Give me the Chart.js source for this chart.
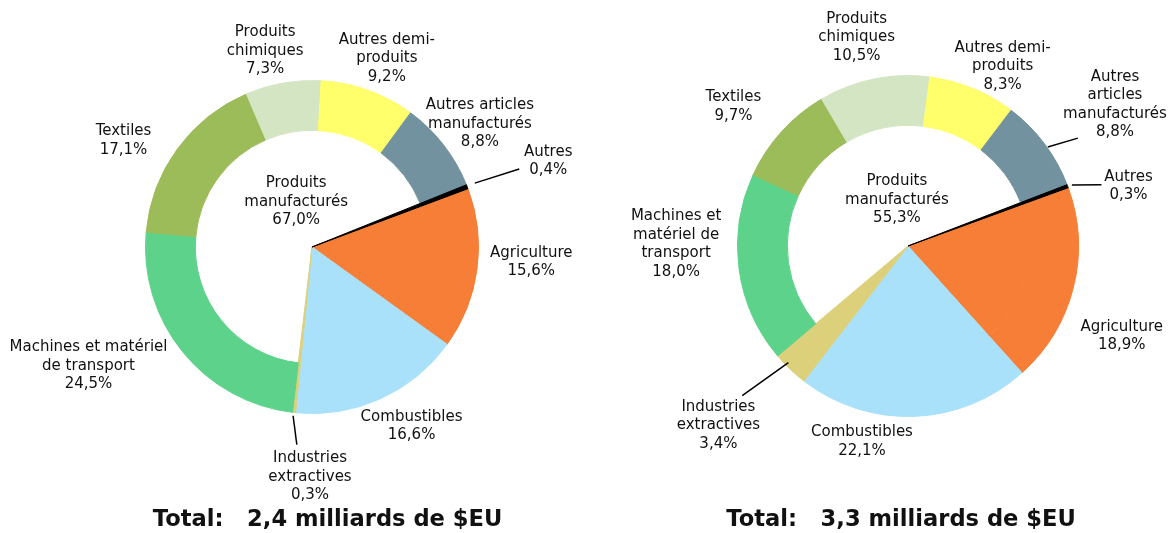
<!DOCTYPE html>
<html lang="fr">
<head>
<meta charset="utf-8">
<title>Exportations par groupe de produits</title>
<script src="https://cdn.jsdelivr.net/npm/chart.js@4.4.1/dist/chart.umd.min.js"></script>
<style>
  html, body { margin: 0; padding: 0; background: #fff; }
  #wrap { position: relative; width: 1172px; height: 533px; overflow: hidden; }
  .pie { position: absolute; top: 0; height: 533px; }
  #left { left: 0; width: 655px; }
  #right { left: 630px; width: 542px; }
</style>
</head>
<body>
<div id="wrap">
  <div class="pie" id="left"><canvas id="chartLeft"></canvas></div>
  <div class="pie" id="right"><canvas id="chartRight"></canvas></div>
</div>
<script>
/* ============================================
   DATA
   ============================================ */
const categories = ['Agriculture', 'Combustibles', 'Industries extractives',
  'Machines et matériel de transport', 'Textiles', 'Produits chimiques',
  'Autres demi-produits', 'Autres articles manufacturés', 'Autres'];
// true = part of "Produits manufacturés" (only drawn as the outer ring)
const isManufactured = [false, false, false, true, true, true, true, true, false];
const sliceColors = ['#F77E36', '#A9E1FB', '#DDD07A', '#5DD28A', '#9CBB59',
  '#D4E5C4', '#FFFF6B', '#71929E', '#000000'];

const leftValues = [15.6, 16.6, 0.3, 24.5, 17.1, 7.3, 9.2, 8.8, 0.4];
const rightValues = [18.9, 22.1, 3.4, 18.0, 9.7, 10.5, 8.3, 8.8, 0.3];
const manufacturedShare = ['67,0%', '55,3%'];
const totals = ['Total:   2,4 milliards de $EU', 'Total:   3,3 milliards de $EU'];

// line breaks of the labels differ between the two pies
const leftLabelLines = [['Agriculture'], ['Combustibles'], ['Industries', 'extractives'],
  ['Machines et matériel', 'de transport'], ['Textiles'], ['Produits', 'chimiques'],
  ['Autres demi-', 'produits'], ['Autres articles', 'manufacturés'], ['Autres']];
const rightLabelLines = [['Agriculture'], ['Combustibles'], ['Industries', 'extractives'],
  ['Machines et', 'matériel de', 'transport'], ['Textiles'], ['Produits', 'chimiques'],
  ['Autres demi-', 'produits'], ['Autres', 'articles', 'manufacturés'], ['Autres']];

/* ============================================
   LABEL LAYOUT  [angle nudge from slice middle (deg), distance / radius]
   ============================================ */
const leftLabelPos = [[-3.7, 1.32], [-4.8, 1.23], [-5.7, 1.38], [11.1, 1.52], [-6.5, 1.30],
  [-3.4, 1.21], [1.9, 1.22], [1.6, 1.25], [1.2, 1.51]];
const rightLabelPos = [[8.8, 1.36], [15.4, 1.18], [2.9, 1.53], [8.2, 1.36], [-3.5, 1.31],
  [-2.3, 1.26], [5.5, 1.19], [2.6, 1.47], [5.3, 1.34]];
const leftLeaders = [
  { index: 2, from: [0.2, 1.02], to: [-1.8, 1.19] },
  { index: 8, from: [-0.2, 1.05], to: [0.6, 1.33] }
];
const rightLeaders = [
  { index: 2, from: [2.0, 0.98], to: [4.2, 1.31] },
  { index: 7, from: [1.6, 1.005], to: [4.5, 1.18] },
  { index: 8, from: [0.1, 1.026], to: [3.0, 1.19] }
];

const LABEL_FONT = '15px "DejaVu Sans", Verdana, sans-serif';
const TITLE_FONT = 'bold 22.6px "DejaVu Sans", Verdana, sans-serif';
const LINE_H = 18.5;

Chart.defaults.font.family = '"DejaVu Sans", Verdana, sans-serif';

const fmtPct = v => v.toFixed(1).replace('.', ',') + '%';

/* ============================================
   LABEL PLUGIN (labels, leader lines, centre text, total)
   ============================================ */
function labelPlugin(cfg) {
  return {
    id: 'sliceLabels',
    afterDraw(chart) {
      const ctx = chart.ctx;
      const arcs = chart.getDatasetMeta(0).data;
      const cx = arcs[0].x, cy = arcs[0].y, R = arcs[0].outerRadius;
      const at = (i, nudge, k) => {
        const a = (arcs[i].startAngle + arcs[i].endAngle) / 2 + nudge * Math.PI / 180;
        return [cx + Math.cos(a) * k * R, cy + Math.sin(a) * k * R];
      };
      const block = (lines, x, y) => {
        lines.forEach((t, j) => ctx.fillText(t, x, y + (j - (lines.length - 1) / 2) * LINE_H));
      };

      ctx.save();
      ctx.strokeStyle = '#000';
      ctx.lineWidth = 1.5;
      cfg.leaders.forEach(l => {
        const p0 = at(l.index, l.from[0], l.from[1]);
        const p1 = at(l.index, l.to[0], l.to[1]);
        ctx.beginPath();
        ctx.moveTo(p0[0], p0[1]);
        ctx.lineTo(p1[0], p1[1]);
        ctx.stroke();
      });

      ctx.fillStyle = '#111';
      ctx.font = LABEL_FONT;
      ctx.textAlign = 'center';
      ctx.textBaseline = 'middle';
      cfg.values.forEach((v, i) => {
        const [x, y] = at(i, cfg.labelPos[i][0], cfg.labelPos[i][1]);
        block(cfg.labelLines[i].concat(fmtPct(v)), x, y);
      });
      block(['Produits', 'manufacturés', cfg.share],
        cx + cfg.centerOffset[0] * R, cy + cfg.centerOffset[1] * R);

      ctx.font = TITLE_FONT;
      ctx.fillText(cfg.title, chart.width / 2, chart.height - 13);
      ctx.restore();
    }
  };
}

/* ============================================
   PIE BUILDER
   ring = outer dataset (all groups), inner dataset = only non-manufactured
   ============================================ */
function makePie(canvasId, cfg) {
  const innerColors = sliceColors.map((c, i) => isManufactured[i] ? 'rgba(0,0,0,0)' : c);
  return new Chart(document.getElementById(canvasId), {
    type: 'doughnut',
    data: {
      labels: categories,
      datasets: [
        { data: cfg.values, backgroundColor: sliceColors, borderColor: sliceColors,
          borderWidth: 1, weight: cfg.weights[0] },
        { data: cfg.values, backgroundColor: innerColors, borderColor: innerColors,
          borderWidth: 1, weight: cfg.weights[1] }
      ]
    },
    options: {
      responsive: true,
      maintainAspectRatio: false,
      animation: false,
      events: [],
      cutout: 0,
      rotation: cfg.rotation,
      layout: { padding: cfg.padding },
      plugins: {
        legend: { display: false },
        tooltip: { enabled: false },
        title: { display: false }
      }
    },
    plugins: [labelPlugin(cfg)]
  });
}

makePie('chartLeft', {
  values: leftValues,
  labelLines: leftLabelLines,
  labelPos: leftLabelPos,
  leaders: leftLeaders,
  share: manufacturedShare[0],
  title: totals[0],
  centerOffset: [-0.095, -0.27],
  rotation: 69.5,
  weights: [50, 117],
  padding: { left: 145, right: 176, top: 80, bottom: 119 }
});

makePie('chartRight', {
  values: rightValues,
  labelLines: rightLabelLines,
  labelPos: rightLabelPos,
  leaders: rightLeaders,
  share: manufacturedShare[1],
  title: totals[1],
  centerOffset: [-0.065, -0.27],
  rotation: 70,
  weights: [50, 121],
  padding: { left: 107, right: 93, top: 75, bottom: 116 }
});
</script>
</body>
</html>
